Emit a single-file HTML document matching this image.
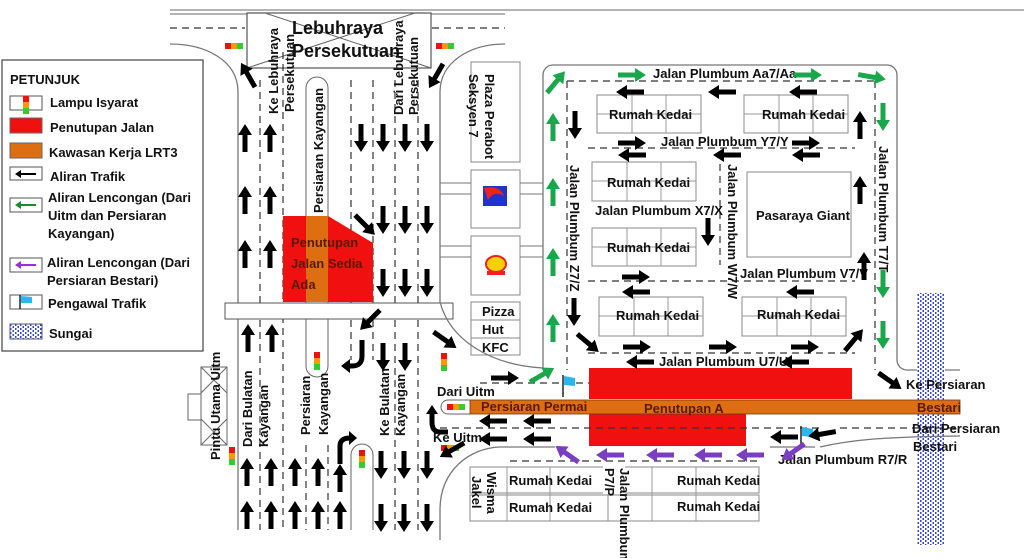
<!DOCTYPE html>
<html><head><meta charset="utf-8"><style>
html,body{margin:0;padding:0;background:#fff}
svg{display:block}
text{font-family:"Liberation Sans",sans-serif;font-size:13px;font-weight:bold;fill:#111}
.big{font-size:18px}
.br{fill:#5a1a00}
.l{stroke:#777;stroke-width:1.3;fill:none}
.d{stroke:#333;stroke-width:1.2;fill:none;stroke-dasharray:7 5}
.b{stroke:#888;stroke-width:1;fill:#fff}
</style></head><body>
<svg width="1024" height="558" viewBox="0 0 1024 558" xmlns="http://www.w3.org/2000/svg">
<defs>
<path id="a" d="M-2.5,14 L2.5,14 L2.5,-3 L7,-3 L0,-14 L-7,-3 L-2.5,-3 Z"/>
<pattern id="riv" width="5" height="4" patternUnits="userSpaceOnUse"><rect width="5" height="4" fill="#fff"/><rect x="0" y="0" width="1.5" height="2" fill="#3344dd"/><rect x="2.5" y="2" width="1.5" height="2" fill="#3344dd"/></pattern>
<g id="tl"><rect x="0" y="0" width="6" height="6" fill="#e11"/><rect x="6" y="0" width="6" height="6" fill="#f90"/><rect x="12" y="0" width="6" height="6" fill="#3c3"/></g>
<g id="tlv"><rect x="0" y="0" width="6" height="6" fill="#e11"/><rect x="0" y="6" width="6" height="6" fill="#f90"/><rect x="0" y="12" width="6" height="6" fill="#3c3"/></g>
<g id="flag"><line x1="0" y1="0" x2="0" y2="22" stroke="#222" stroke-width="1.5"/><path d="M1,1 L12,3 L12,11 L1,10 Z" fill="#2bb6ef"/></g>
</defs>

<line x1="170" y1="10" x2="1024" y2="10" stroke="#888" stroke-width="1.2"/>
<line x1="170" y1="14" x2="505" y2="14" stroke="#888" stroke-width="1.2"/>
<line x1="170" y1="28" x2="245" y2="28" class="d"/>
<line x1="432" y1="28" x2="505" y2="28" class="d"/>
<path d="M170,44 C205,44 238,60 238,92" class="l"/>
<path d="M505,44 C470,44 440,62 440,92" class="l"/>
<rect x="247" y="13" width="184" height="55" fill="#fff" stroke="#555" stroke-width="1.2"/>
<line x1="265" y1="13" x2="431" y2="68" stroke="#666"/><line x1="415" y1="13" x2="247" y2="68" stroke="#666"/>
<text class="big" x="292" y="34">Lebuhraya</text>
<text class="big" x="292" y="57">Persekutuan</text>
<use href="#tl" x="225" y="43"/><use href="#tl" x="436" y="43"/>

<line x1="238" y1="92" x2="238" y2="530" class="l"/>
<line x1="440" y1="92" x2="440" y2="302" class="l"/>
<g class="d"><line x1="260" y1="80" x2="260" y2="530"/><line x1="283" y1="52" x2="283" y2="530"/><line x1="351" y1="80" x2="351" y2="360"/><line x1="373" y1="80" x2="373" y2="360"/><line x1="395" y1="80" x2="395" y2="530"/><line x1="418" y1="80" x2="418" y2="530"/><line x1="306" y1="445" x2="306" y2="530"/><line x1="328" y1="445" x2="328" y2="530"/></g>
<path d="M306,366 L306,88 A11,11 0 0 1 328,88 L328,366 A11,11 0 0 1 306,366 Z" fill="#fff" stroke="#666"/>
<path d="M351,530 L351,455 A11,11 0 0 1 373,455 L373,530" fill="#fff" stroke="#666"/>
<text transform="translate(323,213) rotate(-90)">Persiaran Kayangan</text>
<text transform="translate(278,114) rotate(-90)" font-size="12">Ke Lebuhraya</text>
<text transform="translate(294,112) rotate(-90)" font-size="12">Persekutuan</text>
<text transform="translate(403,115) rotate(-90)" font-size="12">Dari Lebuhraya</text>
<text transform="translate(418,115) rotate(-90)" font-size="12">Persekutuan</text>
<path d="M283,216 L328,216 L373,243 L373,302 L283,302 Z" fill="#f01010"/>
<rect x="306" y="216" width="22" height="86" fill="#dd6e12"/>
<text class="br" x="291" y="247">Penutupan</text>
<text class="br" x="291" y="268">Jalan Sedia</text>
<text class="br" x="291" y="289">Ada</text>
<rect x="225" y="303" width="228" height="16" fill="#fff" stroke="#555"/>
<text transform="translate(252,447) rotate(-90)" font-size="12">Dari Bulatan</text>
<text transform="translate(268,447) rotate(-90)" font-size="12">Kayangan</text>
<text transform="translate(310,435) rotate(-90)" font-size="13">Persiaran</text>
<text transform="translate(328,435) rotate(-90)" font-size="13">Kayangan</text>
<text transform="translate(389,436) rotate(-90)" font-size="12">Ke Bulatan</text>
<text transform="translate(405,436) rotate(-90)" font-size="12">Kayangan</text>
<rect x="188" y="394" width="13" height="26" fill="#fff" stroke="#666"/>
<rect x="201" y="367" width="26" height="78" fill="#fff" stroke="#666"/>
<line x1="201" y1="367" x2="227" y2="393" stroke="#666"/><line x1="227" y1="367" x2="201" y2="393" stroke="#666"/>
<line x1="201" y1="419" x2="227" y2="445" stroke="#666"/><line x1="227" y1="419" x2="201" y2="445" stroke="#666"/>
<text transform="translate(220,460) rotate(-90)">Pintu Utama Uitm</text>
<use href="#tlv" x="229" y="447"/>
<use href="#tlv" x="314" y="352"/><use href="#tlv" x="359" y="450"/><use href="#tlv" x="441" y="353"/>

<rect x="471" y="62" width="49" height="100" class="b"/>
<text transform="translate(485,74) rotate(90)">Plaza Perabot</text>
<text transform="translate(469,74) rotate(90)">Seksyen 7</text>
<rect x="471" y="170" width="49" height="58" class="b"/>
<path d="M483,186 L507,186 L507,206 L483,206 Z" fill="#2233cc"/><path d="M484,188 Q500,185 504,196 Q494,190 488,200 Z" fill="#e22"/>
<rect x="471" y="236" width="49" height="59" class="b"/>
<ellipse cx="496" cy="264" rx="10" ry="8" fill="#f6d000" stroke="#e22" stroke-width="2"/><rect x="487" y="271" width="18" height="4" fill="#e22"/>
<rect x="471" y="302" width="49" height="53" class="b"/>
<line x1="471" y1="320" x2="520" y2="320" stroke="#888"/><line x1="471" y1="338" x2="520" y2="338" stroke="#888"/>
<text x="482" y="316">Pizza</text><text x="482" y="334">Hut</text><text x="482" y="352">KFC</text>
<g stroke="#777"><line x1="440" y1="183" x2="471" y2="183"/><line x1="440" y1="194" x2="471" y2="194"/><line x1="520" y1="183" x2="543" y2="183"/><line x1="520" y1="194" x2="543" y2="194"/>
<line x1="440" y1="246" x2="471" y2="246"/><line x1="440" y1="257" x2="471" y2="257"/><line x1="520" y1="246" x2="543" y2="246"/><line x1="520" y1="257" x2="543" y2="257"/></g>
<path d="M440,302 C450,340 490,365 543,368" class="l"/>
<path d="M543,368 L543,75 A10,10 0 0 1 553,65 L887,65 A10,10 0 0 1 897,75 L897,360 A10,10 0 0 0 907,370 L960,370" class="l"/>
<g class="d"><line x1="567" y1="81" x2="875" y2="81"/><line x1="567" y1="81" x2="567" y2="370"/><line x1="875" y1="81" x2="875" y2="370"/>
<line x1="588" y1="148" x2="855" y2="148"/><line x1="588" y1="281" x2="855" y2="281"/><line x1="588" y1="353" x2="855" y2="353"/><line x1="720" y1="152" x2="720" y2="265"/>
<line x1="480" y1="383" x2="816" y2="383"/></g>
<g fill="#fff" stroke="#888">
<rect x="597" y="95" width="104" height="38"/><rect x="744" y="95" width="104" height="38"/>
<rect x="592" y="162" width="104" height="39"/><rect x="592" y="228" width="104" height="38"/>
<rect x="599" y="297" width="104" height="39"/><rect x="742" y="297" width="104" height="39"/>
<rect x="747" y="172" width="104" height="85"/></g>
<g stroke="#999">
<path d="M597,114H701M632,95V133M666,95V133"/><path d="M744,114H848M779,95V133M813,95V133"/>
<path d="M592,181H696M627,162V201M661,162V201"/><path d="M592,247H696M627,228V266M661,228V266"/>
<path d="M599,316H703M634,297V336M668,297V336"/><path d="M742,316H846M777,297V336M811,297V336"/></g>
<text x="609" y="119">Rumah Kedai</text><text x="762" y="119">Rumah Kedai</text>
<text x="607" y="187">Rumah Kedai</text><text x="607" y="252">Rumah Kedai</text>
<text x="616" y="320">Rumah Kedai</text><text x="757" y="319">Rumah Kedai</text>
<text x="756" y="220">Pasaraya Giant</text>
<text x="653" y="78">Jalan Plumbum Aa7/Aa</text>
<text x="661" y="146">Jalan Plumbum Y7/Y</text>
<text x="595" y="215">Jalan Plumbum X7/X</text>
<text x="740" y="278">Jalan Plumbum V7/V</text>
<text x="659" y="366">Jalan Plumbum U7/U</text>
<text transform="translate(570,165) rotate(90)">Jalan Plumbum Z7/Z</text>
<text transform="translate(728,164) rotate(90)">Jalan Plumbum W7/W</text>
<text transform="translate(879,146) rotate(90)">Jalan Plumbum T7/T</text>

<rect x="917" y="293" width="28" height="252" fill="url(#riv)"/>

<rect x="589" y="368" width="263" height="31" fill="#f01010"/>
<rect x="589" y="413" width="157" height="33" fill="#f01010"/>
<path d="M470,400 L448,400 A7,7 0 0 0 448,414 L470,414" fill="#fff" stroke="#666"/>
<rect x="470" y="400" width="490" height="14" fill="#dd6e12" stroke="#6a3a10" stroke-width="0.8"/>
<use href="#tl" x="447" y="404"/>
<text class="br" x="481" y="411">Persiaran Permai</text>
<text class="br" x="644" y="413">Penutupan A</text>
<text class="br" x="917" y="412">Bestari</text>
<g class="d"><line x1="440" y1="428" x2="820" y2="428"/><line x1="840" y1="428" x2="960" y2="428"/><line x1="510" y1="461" x2="760" y2="461"/></g>
<path d="M440,540 L440,510 C440,470 470,448 500,447 L555,447" class="l"/>
<line x1="770" y1="447" x2="815" y2="447" class="l"/>
<path d="M820,447 C850,440 880,437 960,436" class="l"/>
<use href="#tl" x="441" y="445"/>
<text x="437" y="396">Dari Uitm</text>
<text x="433" y="442">Ke Uitm</text>
<text x="906" y="389">Ke Persiaran</text>
<text x="912" y="433">Dari Persiaran</text>
<text x="913" y="451">Bestari</text>
<text x="778" y="464">Jalan Plumbum R7/R</text>
<use href="#flag" x="563" y="375"/><use href="#flag" x="801" y="426"/>
<g fill="#fff" stroke="#888"><rect x="470" y="467" width="148" height="26"/><rect x="470" y="495" width="148" height="26"/><rect x="608" y="467" width="151" height="26"/><rect x="608" y="495" width="151" height="26"/></g>
<g stroke="#999"><path d="M507,467V521M550,467V521M652,467V521M696,467V521"/></g>
<rect x="603" y="466" width="22" height="28" fill="#fff"/>
<text transform="translate(487,472) rotate(90)">Wisma</text>
<text transform="translate(472,476) rotate(90)">Jakel</text>
<text x="509" y="485">Rumah Kedai</text><text x="509" y="512">Rumah Kedai</text>
<text x="677" y="485">Rumah Kedai</text><text x="677" y="511">Rumah Kedai</text>
<text transform="translate(605,468) rotate(90)" font-size="12">P7/P</text>
<text transform="translate(620,468) rotate(90)" font-size="12">Jalan Plumbum</text>

<g fill="#000">
<use href="#a" transform="translate(245,138)"/><use href="#a" transform="translate(270,138)"/>
<use href="#a" transform="translate(245,200)"/><use href="#a" transform="translate(270,200)"/>
<use href="#a" transform="translate(245,254)"/><use href="#a" transform="translate(270,254)"/>
<use href="#a" transform="translate(248,338)"/><use href="#a" transform="translate(272,338)"/>
<use href="#a" transform="translate(247,472)"/><use href="#a" transform="translate(271,472)"/><use href="#a" transform="translate(295,472)"/><use href="#a" transform="translate(318,472)"/><use href="#a" transform="translate(340,478)"/>
<use href="#a" transform="translate(247,515)"/><use href="#a" transform="translate(271,515)"/><use href="#a" transform="translate(295,515)"/><use href="#a" transform="translate(318,515)"/><use href="#a" transform="translate(340,515)"/>
<use href="#a" transform="translate(248,75) rotate(-30)"/><use href="#a" transform="translate(436,76) rotate(-150)"/>
<use href="#a" transform="translate(361,138) rotate(180)"/><use href="#a" transform="translate(383,138) rotate(180)"/><use href="#a" transform="translate(405,138) rotate(180)"/><use href="#a" transform="translate(427,138) rotate(180)"/>
<use href="#a" transform="translate(383,220) rotate(180)"/><use href="#a" transform="translate(405,220) rotate(180)"/><use href="#a" transform="translate(427,220) rotate(180)"/>
<use href="#a" transform="translate(365,225) rotate(135)"/>
<use href="#a" transform="translate(383,283) rotate(180)"/><use href="#a" transform="translate(405,283) rotate(180)"/><use href="#a" transform="translate(427,283) rotate(180)"/>
<use href="#a" transform="translate(370,320) rotate(-135)"/>
<use href="#a" transform="translate(383,357) rotate(180)"/><use href="#a" transform="translate(405,357) rotate(180)"/>
<use href="#a" transform="translate(381,465) rotate(180)"/><use href="#a" transform="translate(404,465) rotate(180)"/><use href="#a" transform="translate(427,465) rotate(180)"/>
<use href="#a" transform="translate(381,518) rotate(180)"/><use href="#a" transform="translate(404,518) rotate(180)"/><use href="#a" transform="translate(427,518) rotate(180)"/>
<use href="#a" transform="translate(445,340) rotate(125)"/><use href="#a" transform="translate(452,450) rotate(-120)"/>
<use href="#a" transform="translate(505,378) rotate(90)"/>
<use href="#a" transform="translate(493,421) rotate(-90)"/><use href="#a" transform="translate(537,421) rotate(-90)"/>
<use href="#a" transform="translate(493,439) rotate(-90)"/><use href="#a" transform="translate(537,439) rotate(-90)"/>
<use href="#a" transform="translate(784,437) rotate(-90)"/><use href="#a" transform="translate(822,434) rotate(-100)"/>
<use href="#a" transform="translate(890,381) rotate(125)"/>
<use href="#a" transform="translate(630,92) rotate(-90)"/><use href="#a" transform="translate(722,92) rotate(-90)"/><use href="#a" transform="translate(803,92) rotate(-90)"/>
<use href="#a" transform="translate(632,143) rotate(90)"/><use href="#a" transform="translate(806,143) rotate(90)"/>
<use href="#a" transform="translate(632,155) rotate(-90)"/><use href="#a" transform="translate(727,155) rotate(-90)"/><use href="#a" transform="translate(806,155) rotate(-90)"/>
<use href="#a" transform="translate(575,125) rotate(180)"/><use href="#a" transform="translate(860,125)"/>
<use href="#a" transform="translate(708,232) rotate(180)"/><use href="#a" transform="translate(860,190)"/><use href="#a" transform="translate(864,266)"/>
<use href="#a" transform="translate(636,277) rotate(90)"/><use href="#a" transform="translate(636,292) rotate(-90)"/><use href="#a" transform="translate(800,292) rotate(-90)"/>
<use href="#a" transform="translate(574,312) rotate(180)"/>
<use href="#a" transform="translate(588,343) rotate(130)"/><use href="#a" transform="translate(637,347) rotate(90)"/><use href="#a" transform="translate(723,347) rotate(90)"/><use href="#a" transform="translate(805,347) rotate(90)"/><use href="#a" transform="translate(854,340) rotate(40)"/>
<use href="#a" transform="translate(640,362) rotate(-90)"/><use href="#a" transform="translate(795,362) rotate(-90)"/>
</g>
<g fill="none" stroke="#000" stroke-width="5"><path d="M362,340 L362,356 Q362,366 352,366 L348,366"/><path d="M340,464 L340,446 Q340,438 350,438"/><path d="M448,432 L440,432 Q432,432 432,422 L432,412"/></g>
<g fill="#000"><path d="M341,366 L350,359 L350,373 Z"/><path d="M357,438 L349,431 L349,445 Z"/><path d="M432,405 L426,414 L438,414 Z"/></g>
<g fill="#1aa64a">
<use href="#a" transform="translate(553,127)"/><use href="#a" transform="translate(553,192)"/><use href="#a" transform="translate(553,262)"/><use href="#a" transform="translate(553,328)"/>
<use href="#a" transform="translate(556,82) rotate(40)"/>
<use href="#a" transform="translate(632,75) rotate(90)"/><use href="#a" transform="translate(808,75) rotate(90)"/><use href="#a" transform="translate(872,77) rotate(100)"/>
<use href="#a" transform="translate(883,117) rotate(180)"/><use href="#a" transform="translate(883,284) rotate(180)"/><use href="#a" transform="translate(883,335) rotate(180)"/>
<use href="#a" transform="translate(542,375) rotate(60)"/>
</g>
<g fill="#7a3fc0">
<use href="#a" transform="translate(567,454) rotate(-55)"/><use href="#a" transform="translate(610,455) rotate(-90)"/><use href="#a" transform="translate(660,455) rotate(-90)"/><use href="#a" transform="translate(708,455) rotate(-90)"/><use href="#a" transform="translate(750,455) rotate(-90)"/><use href="#a" transform="translate(793,452) rotate(-125)"/>
</g>

<rect x="2" y="60" width="201" height="291" fill="#fff" stroke="#444" stroke-width="1.2"/>
<text x="10" y="84" font-size="12">PETUNJUK</text>
<g fill="#fff" stroke="#555"><rect x="10" y="96" width="32" height="14"/><rect x="10" y="167" width="32" height="13"/><rect x="10" y="198" width="32" height="14"/><rect x="10" y="258" width="32" height="14"/><rect x="10" y="295" width="32" height="14"/></g>
<use href="#tlv" x="23" y="96"/>
<rect x="10" y="118" width="32" height="15" fill="#f01010" stroke="#666"/>
<rect x="10" y="143" width="32" height="15" fill="#dd6e12" stroke="#666"/>
<path d="M18,174 L36,174" stroke="#000" stroke-width="2"/><path d="M15,174 L21,170 L21,178 Z"/>
<path d="M18,205 L36,205" stroke="#1a8a30" stroke-width="2"/><path d="M15,205 L21,201 L21,209 Z" fill="#1a8a30"/>
<path d="M18,265 L36,265" stroke="#9b2fd6" stroke-width="2"/><path d="M15,265 L21,261 L21,269 Z" fill="#9b2fd6"/>
<line x1="20" y1="295" x2="20" y2="309" stroke="#222" stroke-width="1.5"/><path d="M21,296 L32,297 L32,303 L21,303 Z" fill="#2bb6ef"/>
<rect x="10" y="324" width="32" height="15" fill="url(#riv)" stroke="#557"/>
<text x="50" y="107">Lampu Isyarat</text>
<text x="50" y="132">Penutupan Jalan</text>
<text x="49" y="157">Kawasan Kerja LRT3</text>
<text x="50" y="181">Aliran Trafik</text>
<text x="48" y="202">Aliran Lencongan (Dari</text>
<text x="48" y="220">Uitm dan Persiaran</text>
<text x="48" y="238">Kayangan)</text>
<text x="47" y="267">Aliran Lencongan (Dari</text>
<text x="47" y="285">Persiaran Bestari)</text>
<text x="48" y="308">Pengawal Trafik</text>
<text x="49" y="338">Sungai</text>
</svg>
</body></html>
